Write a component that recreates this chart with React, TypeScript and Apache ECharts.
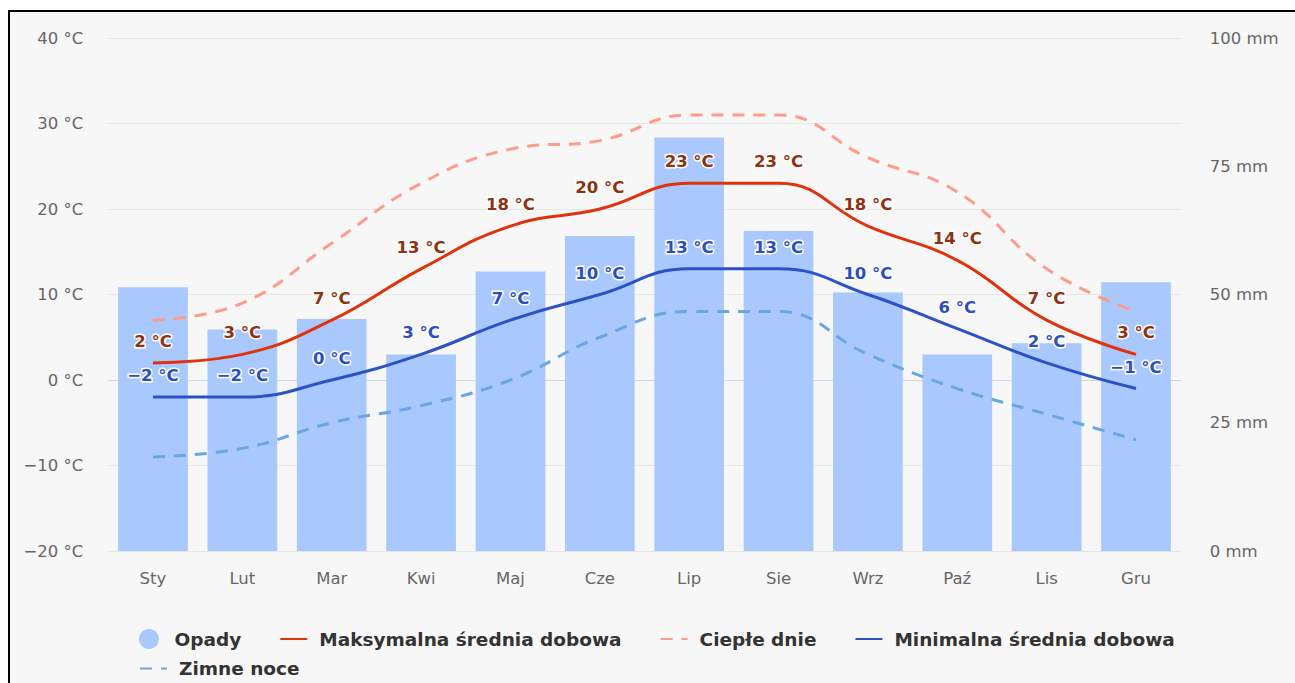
import { useEffect, useRef } from "react";
import * as echarts from "echarts";

const months = ["Sty", "Lut", "Mar", "Kwi", "Maj", "Cze", "Lip", "Sie", "Wrz", "Paź", "Lis", "Gru"];
const precipitation = [51.4, 43.2, 45.2, 38.3, 54.5, 61.4, 80.6, 62.4, 50.4, 38.3, 40.5, 52.4];
const maxTemp = [2, 3, 7, 13, 18, 20, 23, 23, 18, 14, 7, 3];
const warmDays = [7, 9, 16, 23, 27, 28, 31, 31, 26, 22, 13, 8];
const minTemp = [-2, -2, 0, 3, 7, 10, 13, 13, 10, 6, 2, -1];
const coldNights = [-9, -8, -5, -3, 0, 5, 8, 8, 3, -1, -4, -7];
const tempAxis = [-20, 40, 10]; // min, max, step
const rainAxis = [0, 100, 25]; // min, max, step

const NAME_RAIN = "Opady";
const NAME_MAX = "Maksymalna średnia dobowa";
const NAME_WARM = "Ciepłe dnie";
const NAME_MIN = "Minimalna średnia dobowa";
const NAME_COLD = "Zimne noce";

const FONT = "DejaVu Sans";

const fmtTemp = (v: number) => `${v < 0 ? "\u2212" + Math.abs(v) : v} °C`;

export default function App() {
  const ref = useRef<HTMLDivElement>(null);

  useEffect(() => {
    if (!ref.current) return;
    const chart = echarts.init(ref.current, undefined, { renderer: "svg" });

    const labelBase = {
      show: true,
      position: "top" as const,
      distance: 13,
      fontFamily: FONT,
      fontWeight: "bold" as const,
      fontSize: 16.5,
      textBorderColor: "#ffffff",
      textBorderWidth: 3,
      formatter: (p: any) => fmtTemp(p.value),
    };

    const legendCommon = {
      orient: "horizontal" as const,
      left: 129,
      itemWidth: 27,
      itemHeight: 20,
      itemGap: 38,
      padding: 0,
      selectedMode: false,
      textStyle: {
        fontFamily: FONT,
        fontSize: 18.5,
        fontWeight: "bold" as const,
        color: "#333333",
        padding: [0, 0, 0, 7],
      },
    };

    const lineCommon = {
      type: "line" as const,
      smooth: 0.45,
    };

    chart.setOption({
      animation: false,
      backgroundColor: "#f7f7f7",
      textStyle: { fontFamily: FONT },
      grid: { left: 98.3, right: 114.3, top: 26, bottom: 132, containLabel: false },
      legend: [
        {
          ...legendCommon,
          top: 617,
          data: [
            { name: NAME_RAIN, icon: "circle" },
            { name: NAME_MAX, itemStyle: { opacity: 0 } },
            { name: NAME_WARM, itemStyle: { opacity: 0 } },
            { name: NAME_MIN, itemStyle: { opacity: 0 } },
          ],
        },
        {
          ...legendCommon,
          top: 647,
          data: [{ name: NAME_COLD, itemStyle: { opacity: 0 } }],
        },
      ],
      xAxis: {
        type: "category",
        data: months,
        axisLine: { lineStyle: { color: "#ccd6eb", width: 1 } },
        axisTick: { alignWithLabel: true, length: 10, lineStyle: { color: "#ccd6eb" } },
        axisLabel: { color: "#666666", fontSize: 16.5, fontFamily: FONT, margin: 19 },
        splitLine: { show: false },
      },
      yAxis: [
        {
          type: "value",
          min: tempAxis[0],
          max: tempAxis[1],
          interval: tempAxis[2],
          axisLine: { show: false },
          axisTick: { show: false },
          axisLabel: { color: "#666666", fontSize: 16.5, fontFamily: FONT, margin: 25, formatter: (v: number) => fmtTemp(v) },
          splitLine: { lineStyle: { color: "#e6e6e6", width: 1 } },
        },
        {
          type: "value",
          min: rainAxis[0],
          max: rainAxis[1],
          interval: rainAxis[2],
          axisLine: { show: false },
          axisTick: { show: false },
          axisLabel: { color: "#666666", fontSize: 16.5, fontFamily: FONT, margin: 29, formatter: (v: number) => `${v} mm` },
          splitLine: { show: false },
        },
      ],
      series: [
        {
          name: NAME_RAIN,
          type: "bar",
          yAxisIndex: 1,
          data: precipitation,
          barCategoryGap: "22%",
          itemStyle: { color: "#a9c8fd" },
          z: 1,
        },
        {
          ...lineCommon,
          name: NAME_WARM,
          data: warmDays,
          symbol: "none",
          lineStyle: { color: "#ff9c88", width: 3, type: [12, 9] },
          itemStyle: { color: "#ff9c88" },
          z: 2,
        },
        {
          ...lineCommon,
          name: NAME_COLD,
          data: coldNights,
          symbol: "none",
          lineStyle: { color: "#6ba6e4", width: 3, type: [12, 9] },
          itemStyle: { color: "#6ba6e4" },
          z: 2,
        },
        {
          ...lineCommon,
          name: NAME_MAX,
          data: maxTemp,
          symbol: "circle",
          symbolSize: 0,
          showSymbol: true,
          lineStyle: { color: "#e0330d", width: 3 },
          itemStyle: { color: "#e0330d" },
          label: { ...labelBase, color: "#8f3210" },
          z: 3,
        },
        {
          ...lineCommon,
          name: NAME_MIN,
          data: minTemp,
          symbol: "circle",
          symbolSize: 0,
          showSymbol: true,
          lineStyle: { color: "#2b52c6", width: 3 },
          itemStyle: { color: "#2b52c6" },
          label: { ...labelBase, color: "#2c4ec0" },
          z: 3,
        },
      ],
    });

    return () => chart.dispose();
  }, []);

  return (
    <div
      style={{
        position: "fixed",
        left: 8,
        top: 10,
        width: 1287,
        height: 673,
        boxSizing: "border-box",
        borderTop: "2px solid #000",
        borderLeft: "2px solid #000",
        background: "#f7f7f7",
        overflow: "hidden",
      }}
    >
      <div ref={ref} style={{ width: 1285, height: 671 }} />
    </div>
  );
}
